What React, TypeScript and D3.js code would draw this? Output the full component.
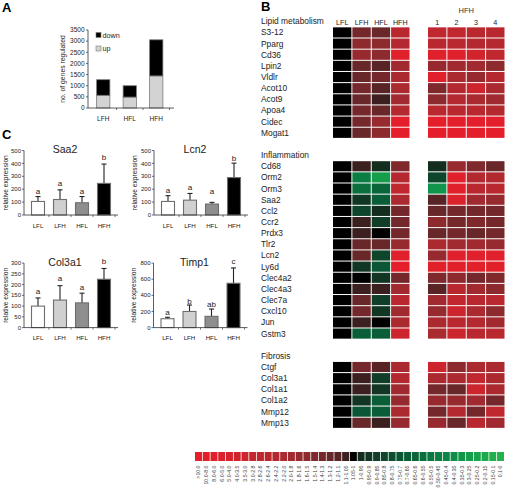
import React from "react";
import * as d3 from "d3";

const FONT = "'Liberation Sans', Arial, Helvetica, sans-serif";

// ---------- Panel A ----------
const aCategories = ["LFH", "HFL", "HFH"];
const aUp = [570, 490, 1440];
const aDown = [700, 510, 1620];
const aTicks = [0, 500, 1000, 1500, 2000, 2500, 3000, 3500];

// ---------- Panel C ----------
const cGroups = ["LFL", "LFH", "HFL", "HFH"];
const saa2Mean = [105, 120, 95, 245];
const saa2Err = [38, 75, 48, 150];
const saa2Letters = ["a", "a", "a", "b"];
const saa2LetterAt = [163, 223, 163, 425];
const lcn2Mean = [105, 115, 85, 290];
const lcn2Err = [45, 52, 13, 112];
const lcn2Letters = ["a", "a", "a", "b"];
const lcn2LetterAt = [171, 192, 163, 422];
const col3a1Mean = [100, 128, 115, 225];
const col3a1Err = [38, 67, 45, 50];
const col3a1Letters = ["a", "a", "a", "b"];
const col3a1LetterAt = [154, 215, 173, 296];
const timp1Mean = [110, 200, 140, 550];
const timp1Err = [18, 80, 90, 190];
const timp1Letters = ["a", "b", "ab", "c"];
const timp1LetterAt = [161, 294, 253, 791];
const cBarFills = ["#ffffff", "#d0d0d0", "#8e8e8e", "#000000"];

// ---------- Panel B ----------
const bColumns = ["LFL", "LFH", "HFL", "HFH"];
const bReplicates = ["1", "2", "3", "4"];
const lipidGenes = ["S3-12", "Pparg", "Cd36", "Lpin2", "Vldlr", "Acot10", "Acot9", "Apoa4", "Cidec", "Mogat1"];
// fold change: LFL, LFH, HFL, HFH | HFH 1..4
const lipidFold = [
  [1, 1.35, 1.2, 2.5, 2.7, 2.7, 2.5, 2.5],
  [1, 1.55, 1.55, 2.3, 2.5, 2.5, 2.3, 2.3],
  [1, 1.7, 1.55, 7, 7, 7, 3.8, 2.7],
  [1, 1.25, 1.15, 1.9, 1.7, 1.9, 1.9, 1.55],
  [1, 1.25, 1.35, 2.1, 7, 2.1, 1.7, 2.3],
  [1, 1.35, 1.15, 2.1, 1.45, 2.3, 3.2, 2.1],
  [1, 1.2, 1.07, 1.9, 1.55, 2.3, 2.1, 1.9],
  [1, 1.35, 1.25, 2.3, 2.5, 2.5, 2.5, 2.3],
  [1, 1.3, 1.7, 12, 12, 12, 12, 12],
  [1, 1.2, 1.55, 12, 12, 12, 12, 12],
];
const inflGenes = ["Cd68", "Orm2", "Orm3", "Saa2", "Ccl2", "Ccr2", "Prdx3", "Tlr2", "Lcn2", "Ly6d", "Clec4a2", "Clec4a3", "Clec7a", "Cxcl10", "Jun", "Gstm3"];
const inflFold = [
  [1, 1.07, 0.97, 1.45, 0.97, 1.7, 1.45, 1.2],
  [1, 0.48, 0.27, 2.3, 0.83, 7, 2.3, 2.3],
  [1, 0.55, 0.62, 2.7, 0.3, 7, 2.5, 2.5],
  [1, 0.93, 0.65, 2.1, 1.15, 5.5, 1.9, 1.6],
  [1, 0.83, 0.95, 1.35, 1.25, 1.35, 1.35, 1.3],
  [1, 1.07, 0.85, 1.35, 1.55, 1.35, 1.45, 1.35],
  [1, 1.07, 1.02, 1.3, 1.25, 1.35, 1.2, 1.35],
  [1, 1.2, 1.25, 1.7, 2.1, 1.9, 1.9, 1.6],
  [1, 1.2, 0.83, 7, 1.7, 7, 7, 7],
  [1, 0.93, 0.73, 12, 9, 9, 9, 9],
  [1, 1.02, 0.93, 1.3, 1.45, 1.55, 1.35, 1.45],
  [1, 1.07, 1.07, 1.9, 1.15, 2.5, 1.9, 1.55],
  [1, 1.2, 0.85, 2.5, 1.9, 2.7, 2.5, 2.5],
  [1, 1.3, 0.93, 1.9, 1.7, 3.2, 2.1, 1.55],
  [1, 1.07, 1.02, 2.1, 2.1, 2.5, 2.3, 1.9],
  [1, 0.65, 0.65, 3.2, 2.1, 3.2, 2.5, 2.5],
];
const fibGenes = ["Ctgf", "Col3a1", "Col1a1", "Col1a2", "Mmp12", "Mmp13"];
const fibFold = [
  [1, 1.3, 1.15, 2.1, 3.2, 1.55, 2.1, 2.1],
  [1, 1.07, 0.85, 2.3, 2.1, 2.1, 2.7, 2.1],
  [1, 1.07, 0.93, 1.9, 1.35, 1.2, 3.2, 2.1],
  [1, 0.93, 0.65, 1.7, 1.7, 1.6, 1.9, 1.35],
  [1, 0.73, 0.65, 2.1, 1.35, 2.3, 1.35, 2.7],
  [1, 1.2, 1.07, 1.7, 1.6, 1.2, 2.5, 1.9],
];

// ---------- Colour legend ----------
const legendLabels = [">10.0", "10.0-8.0", "8.0-6.0", "6.0-5.0", "5.0-4.0", "4.0-3.5", "3.5-3.0", "3.0-2.8", "2.8-2.6", "2.6-2.4", "2.4-2.2", "2.2-2.0", "2.0-1.8", "1.8-1.6", "1.6-1.5", "1.5-1.4", "1.4-1.3", "1.3-1.2", "1.2-1.1", "1.1-1.05", "1.05-1", "1-0.95", "0.95-0.9", "0.9-0.85", "0.85-0.8", "0.8-0.75", "0.75-0.7", "0.7-0.65", "0.65-0.6", "0.6-0.55", "0.55-0.5", "0.50-0.45", "0.45-0.4", "0.4-0.35", "0.35-0.3", "0.3-0.25", "0.25-0.2", "0.2-0.15", "0.15-0.1", "0.1-0"];
const legendColors = [
  "#e41e2a", "#e2202a", "#e0202b", "#dc222c", "#d8232c", "#d2242d", "#cc252e", "#c6262e", "#c0272f", "#ba282f",
  "#b42930", "#aa2a30", "#a02a30", "#962a2f", "#8c2a2e", "#80292d", "#74282b", "#682729", "#582426", "#3c2020",
  "#000000",
  "#132e1f", "#123624", "#103e28", "#0e462c", "#0c4e30", "#0b5634", "#0a5e37", "#0a663a", "#0a6e3d",
  "#0a7640", "#0a7e43", "#0c8646", "#0e8e48", "#10964a", "#149e4b", "#18a44c", "#1caa4d", "#20ae4e", "#22b24e",
];
const foldThresholds = [0.1, 0.15, 0.2, 0.25, 0.3, 0.35, 0.4, 0.45, 0.5, 0.55, 0.6, 0.65, 0.7, 0.75, 0.8, 0.85, 0.9, 0.95, 1, 1.05, 1.1, 1.2, 1.3, 1.4, 1.5, 1.6, 1.8, 2.0, 2.2, 2.4, 2.6, 2.8, 3.0, 3.5, 4, 5, 6, 8, 10];

const foldColor = d3.scaleThreshold<number, string>().domain(foldThresholds).range([...legendColors].reverse());

function PanelA() {
  const y = d3.scaleLinear().domain([0, 3500]).range([108, 30]);
  const x = d3.scaleBand<string>().domain(aCategories).range([90, 169.5]).paddingInner(0.5).paddingOuter(0.25);
  const bw = x.bandwidth();
  const step = x.step();
  return (
    <g>
      <text x={2} y={12} fontSize={13} fontWeight="bold">A</text>
      {aCategories.map((c, i) => {
        const bx = x(c)!;
        const top = aUp[i] + aDown[i];
        return (
          <g key={c}>
            <rect x={bx} y={y(aUp[i])} width={bw} height={y(0) - y(aUp[i])} fill="#d3d3d3" stroke="#7a7a7a" strokeWidth={0.8} />
            <rect x={bx} y={y(top)} width={bw} height={y(aUp[i]) - y(top)} fill="#000" stroke="#7a7a7a" strokeWidth={0.8} />
            <text x={bx + bw / 2} y={120.5} fontSize={6.5} textAnchor="middle" fill="#222">{c}</text>
            <line x1={bx + bw + (step - bw) / 2} x2={bx + bw + (step - bw) / 2} y1={y(0)} y2={y(0) + 2} stroke="#333" strokeWidth={0.7} />
          </g>
        );
      })}
      <line x1={88} x2={88} y1={y(3500)} y2={y(0)} stroke="#333" strokeWidth={0.8} />
      <line x1={88} x2={174} y1={y(0)} y2={y(0)} stroke="#333" strokeWidth={0.8} />
      {aTicks.map((t) => (
        <g key={t}>
          <line x1={86} x2={88} y1={y(t)} y2={y(t)} stroke="#333" strokeWidth={0.7} />
          <text x={84.5} y={y(t) + 2.3} fontSize={6.5} textAnchor="end" fill="#222">{t}</text>
        </g>
      ))}
      <text transform={`translate(65,${(y(0) + y(3500)) / 2}) rotate(-90)`} fontSize={6.8} textAnchor="middle" fill="#222">no. of genes regulated</text>
      <rect x={96} y={32.5} width={5} height={5} fill="#000" stroke="#7a7a7a" strokeWidth={0.6} />
      <text x={102.5} y={37.6} fontSize={7.2} fill="#222">down</text>
      <rect x={96} y={46} width={5} height={5} fill="#d3d3d3" stroke="#7a7a7a" strokeWidth={0.6} />
      <text x={102.5} y={51.1} fontSize={7.2} fill="#222">up</text>
    </g>
  );
}

type CProps = {
  title: string; axisX: number; y0: number; max: number; step: number;
  mean: number[]; err: number[]; letters: string[]; letterAt: number[]; labelX: number;
};

function CChart(p: CProps) {
  const y = d3.scaleLinear().domain([0, p.max]).range([p.y0, p.y0 - 64.5]);
  const x = d3.scaleBand<string>().domain(cGroups).range([p.axisX + 3, p.axisX + 91]).paddingInner(0.41).paddingOuter(0.205);
  const bw = x.bandwidth();
  const st = x.step();
  const ticks = d3.range(0, p.max + 0.001, p.step);
  return (
    <g>
      <text x={p.axisX + 41} y={y(p.max) + 2.5} fontSize={10.5} textAnchor="middle" fill="#222">{p.title}</text>
      <text transform={`translate(${p.labelX},${(y(0) + y(p.max)) / 2}) rotate(-90)`} fontSize={6.6} textAnchor="middle" fill="#222">relative expression</text>
      {cGroups.map((g, i) => {
        const bx = x(g)!;
        const cx = bx + bw / 2;
        return (
          <g key={g}>
            <line x1={cx} x2={cx} y1={y(p.mean[i])} y2={y(p.mean[i] + p.err[i])} stroke="#222" strokeWidth={1.1} />
            <line x1={cx - 2.5} x2={cx + 2.5} y1={y(p.mean[i] + p.err[i])} y2={y(p.mean[i] + p.err[i])} stroke="#222" strokeWidth={1.1} />
            <rect x={bx} y={y(p.mean[i])} width={bw} height={y(0) - y(p.mean[i])} fill={cBarFills[i]} stroke="#6e6e6e" strokeWidth={1.1} />
            <text x={cx} y={y(p.letterAt[i])} fontSize={8} textAnchor="middle" fill="#222">{p.letters[i]}</text>
            <text x={cx} y={p.y0 + 12.5} fontSize={6.2} textAnchor="middle" fill="#222">{g}</text>
            <line x1={bx + bw + (st - bw) / 2} x2={bx + bw + (st - bw) / 2} y1={p.y0} y2={p.y0 + 2} stroke="#333" strokeWidth={0.7} />
          </g>
        );
      })}
      <line x1={p.axisX} x2={p.axisX} y1={y(p.max)} y2={y(0)} stroke="#333" strokeWidth={0.8} />
      <line x1={p.axisX} x2={p.axisX + 94} y1={y(0)} y2={y(0)} stroke="#333" strokeWidth={0.8} />
      {ticks.map((t) => (
        <g key={t}>
          <line x1={p.axisX - 2} x2={p.axisX} y1={y(t)} y2={y(t)} stroke="#333" strokeWidth={0.7} />
          <text x={p.axisX - 3} y={y(t) + 2.1} fontSize={6} textAnchor="end" fill="#222">{t}</text>
        </g>
      ))}
    </g>
  );
}

function PanelC() {
  return (
    <g>
      <text x={2} y={139} fontSize={13} fontWeight="bold">C</text>
      <CChart title="Saa2" axisX={24} y0={215} max={500} step={100} mean={saa2Mean} err={saa2Err} letters={saa2Letters} letterAt={saa2LetterAt} labelX={7.5} />
      <CChart title="Lcn2" axisX={154} y0={215} max={500} step={100} mean={lcn2Mean} err={lcn2Err} letters={lcn2Letters} letterAt={lcn2LetterAt} labelX={136.5} />
      <CChart title="Col3a1" axisX={24} y0={327.6} max={300} step={50} mean={col3a1Mean} err={col3a1Err} letters={col3a1Letters} letterAt={col3a1LetterAt} labelX={7.5} />
      <CChart title="Timp1" axisX={153.5} y0={327.6} max={800} step={200} mean={timp1Mean} err={timp1Err} letters={timp1Letters} letterAt={timp1LetterAt} labelX={136} />
    </g>
  );
}

function PanelB() {
  const slots = d3.scaleBand<number>().domain(d3.range(37)).range([16.2, 16.2 + 37 * 11.126]).paddingInner(0.09);
  const g1 = d3.scaleBand<number>().domain([0, 1, 2, 3]).range([333, 409.5]).paddingInner(0.05);
  const g2 = d3.scaleBand<number>().domain([0, 1, 2, 3]).range([428, 504.5]).paddingInner(0.05);
  const sh = slots.bandwidth();
  const sections = [
    { title: "Lipid metabolism", start: 0, genes: lipidGenes, fold: lipidFold },
    { title: "Inflammation", start: 12, genes: inflGenes, fold: inflFold },
    { title: "Fibrosis", start: 30, genes: fibGenes, fold: fibFold },
  ];
  const legendX = d3.scaleBand<number>().domain(d3.range(legendLabels.length)).range([195, 504]).paddingInner(0.1);
  return (
    <g>
      <text x={261} y={11} fontSize={13} fontWeight="bold">B</text>
      <text x={(g2.range()[0] + g2.range()[1]) / 2} y={12.5} fontSize={7.5} textAnchor="middle" fill="#333">HFH</text>
      {bColumns.map((c, i) => (
        <text key={c} x={g1(i)! + g1.bandwidth() / 2} y={24.6} fontSize={7.2} textAnchor="middle" fill="#222">{c}</text>
      ))}
      {bReplicates.map((c, i) => (
        <text key={c} x={g2(i)! + g2.bandwidth() / 2} y={24.6} fontSize={7.2} textAnchor="middle" fill="#222">{c}</text>
      ))}
      {sections.map((s) => (
        <g key={s.title}>
          <text x={261} y={slots(s.start)! + sh / 2 + 3} fontSize={8.4} fill="#222">{s.title}</text>
          {s.genes.map((gname, r) => {
            const yy = slots(s.start + 1 + r)!;
            return (
              <g key={gname}>
                <text x={261} y={yy + sh / 2 + 3} fontSize={8.4} fill="#222">{gname}</text>
                {s.fold[r].map((v, c) => {
                  const sc = c < 4 ? g1 : g2;
                  const ci = c < 4 ? c : c - 4;
                  return <rect key={c} x={sc(ci)} y={yy} width={sc.bandwidth()} height={sh} fill={foldColor(v)} />;
                })}
              </g>
            );
          })}
        </g>
      ))}
      {legendLabels.map((l, i) => {
        const lx = legendX(i)!;
        const cx = lx + legendX.bandwidth() / 2;
        return (
          <g key={l}>
            <rect x={lx} y={452} width={legendX.bandwidth()} height={9} fill={legendColors[i]} />
            <text transform={`translate(${cx + 1.9},465.5) rotate(-90)`} fontSize={5.2} textAnchor="end" fill="#444">{l}</text>
          </g>
        );
      })}
    </g>
  );
}

export default function App() {
  return (
    <svg width={513} height={490} style={{ position: "absolute", left: 0, top: 0, display: "block" }} fontFamily={FONT}>
      <rect width={513} height={490} fill="#fff" />
      <PanelA />
      <PanelB />
      <PanelC />
    </svg>
  );
}
